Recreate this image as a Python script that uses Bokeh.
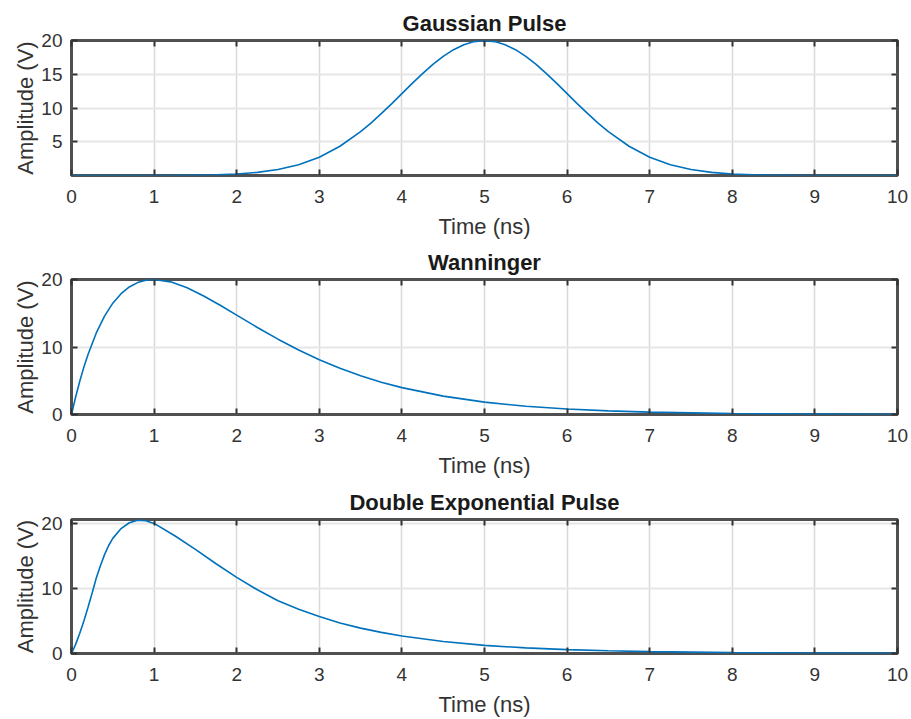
from bokeh.plotting import figure
from bokeh.models import LinearAxis, FixedTicker, Range1d
from bokeh.layouts import column
from bokeh.embed import file_html
from bokeh.resources import INLINE

# ---- data ----
x_ticks = [0, 1, 2, 3, 4, 5, 6, 7, 8, 9, 10]

t_gauss = [0.0, 0.5, 1.0, 1.25, 1.5, 1.75, 2.0, 2.25, 2.5, 2.75, 3.0, 3.25, 3.5, 3.625,
           3.75, 3.875, 4.0, 4.125, 4.25, 4.375, 4.5, 4.625, 4.75, 4.875, 5.0, 5.125,
           5.25, 5.375, 5.5, 5.625, 5.75, 5.875, 6.0, 6.125, 6.25, 6.375, 6.5, 6.75,
           7.0, 7.25, 7.5, 7.75, 8.0, 8.25, 8.5, 8.75, 9.0, 9.5, 10.0]
v_gauss = [0.0, 0.0, 0.01, 0.02, 0.04, 0.10, 0.22, 0.46, 0.88, 1.59, 2.71, 4.33, 6.49, 7.77,
           9.16, 10.62, 12.13, 13.64, 15.10, 16.45, 17.65, 18.64, 19.38, 19.84, 20.0, 19.84,
           19.38, 18.64, 17.65, 16.45, 15.10, 13.64, 12.13, 10.62, 9.16, 7.77, 6.49, 4.33,
           2.71, 1.59, 0.88, 0.46, 0.22, 0.10, 0.04, 0.02, 0.01, 0.0, 0.0]
y_ticks_gauss = [5, 10, 15, 20]

t_wann = [0.0, 0.05, 0.1, 0.15, 0.2, 0.3, 0.4, 0.5, 0.6, 0.7, 0.8, 0.9, 1.0, 1.2, 1.4,
          1.6, 1.8, 2.0, 2.25, 2.5, 2.75, 3.0, 3.25, 3.5, 3.75, 4.0, 4.5, 5.0, 5.5, 6.0,
          6.5, 7.0, 8.0, 9.0, 10.0]
v_wann = [0.0, 2.59, 4.92, 7.02, 8.90, 12.08, 14.58, 16.49, 17.90, 18.90, 19.54, 19.89,
          20.0, 19.65, 18.77, 17.56, 16.18, 14.72, 12.89, 11.16, 9.56, 8.12, 6.85, 5.75,
          4.79, 3.98, 2.72, 1.83, 1.22, 0.81, 0.53, 0.35, 0.15, 0.06, 0.02]
y_ticks_wann = [0, 10, 20]

t_dexp = [0.0, 0.05, 0.1, 0.15, 0.2, 0.25, 0.3, 0.35, 0.4, 0.45, 0.5, 0.6, 0.7, 0.8, 0.9,
          1.0, 1.25, 1.5, 1.75, 2.0, 2.25, 2.5, 2.75, 3.0, 3.25, 3.5, 3.75, 4.0, 4.5, 5.0,
          5.5, 6.0, 6.5, 7.0, 8.0, 9.0, 10.0]
v_dexp = [0.0, 1.4, 3.1, 5.0, 7.1, 9.3, 11.6, 13.5, 15.2, 16.6, 17.7, 19.2, 20.1, 20.5,
          20.4, 20.0, 18.1, 16.0, 13.8, 11.7, 9.8, 8.1, 6.8, 5.7, 4.7, 3.9, 3.25, 2.7,
          1.85, 1.25, 0.86, 0.6, 0.42, 0.29, 0.14, 0.07, 0.03]
y_ticks_dexp = [0, 10, 20]

FONT = "Liberation Sans"


def style_axis(ax, ticks, show_labels=True):
    ax.ticker = FixedTicker(ticks=ticks)
    ax.major_tick_in = 6
    ax.major_tick_out = 0
    ax.minor_tick_line_color = None
    ax.major_tick_line_color = "#333333"
    ax.major_tick_line_width = 2
    ax.axis_line_color = None
    if show_labels:
        ax.major_label_text_font = FONT
        ax.major_label_text_font_size = "19px"
        ax.major_label_text_color = "#333333"
        ax.axis_label_text_font = FONT
        ax.axis_label_text_font_size = "22px"
        ax.axis_label_text_font_style = "normal"
        ax.axis_label_text_color = "#333333"
    else:
        ax.major_label_text_font_size = "0px"
        ax.major_label_text_color = None
        ax.major_label_standoff = 0


def make(title, t, v, yticks, yend, height, btop, bbottom):
    p = figure(width=910, height=height, output_backend="svg", toolbar_location=None,
               x_range=Range1d(0, 10), y_range=Range1d(0, yend),
               min_border_left=71, min_border_right=13,
               min_border_top=btop, min_border_bottom=bbottom,
               x_axis_label="Time (ns)", y_axis_label="Amplitude (V)",
               title=title)
    p.line(t, v, line_color="#0072BD", line_width=1.6)

    p.title.text_font = FONT
    p.title.text_font_size = "22px"
    p.title.text_font_style = "bold"
    p.title.text_color = "#1a1a1a"
    p.title.align = "center"
    p.title.standoff = 10

    style_axis(p.xaxis[0], x_ticks)
    p.xaxis[0].major_label_standoff = 14
    p.xaxis[0].axis_label_standoff = 8
    style_axis(p.yaxis[0], yticks)
    p.yaxis[0].major_label_standoff = 9
    p.yaxis[0].axis_label_standoff = 0

    top = LinearAxis()
    style_axis(top, x_ticks, show_labels=False)
    p.add_layout(top, "above")
    right = LinearAxis()
    style_axis(right, yticks, show_labels=False)
    p.add_layout(right, "right")

    p.xgrid.ticker = FixedTicker(ticks=x_ticks)
    p.ygrid.ticker = FixedTicker(ticks=yticks)
    p.xgrid.grid_line_color = "#d9d9d9"
    p.xgrid.grid_line_width = 1.5
    p.ygrid.grid_line_color = "#e6e6e6"
    p.ygrid.grid_line_width = 2

    p.outline_line_color = "#505050"
    p.outline_line_width = 3
    p.background_fill_color = "white"
    p.border_fill_color = "white"
    return p


p1 = make("Gaussian Pulse", t_gauss, v_gauss, y_ticks_gauss, 20, 241, 40, 65)
p2 = make("Wanninger", t_wann, v_wann, y_ticks_wann, 20, 239, 38, 65)
p3 = make("Double Exponential Pulse", t_dexp, v_dexp, y_ticks_dexp, 20.6, 239, 39, 64)

layout = column(p1, p2, p3, spacing=0)

open("out.html", "w").write(file_html(layout, INLINE))
